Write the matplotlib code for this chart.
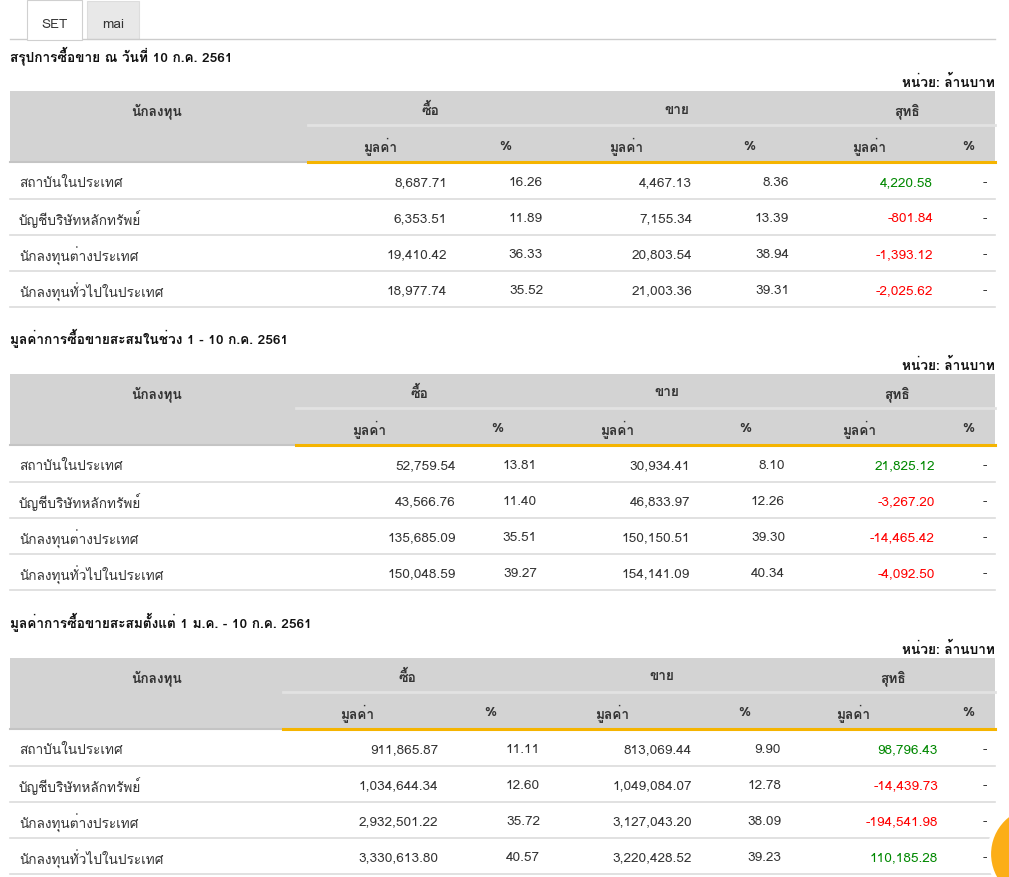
import matplotlib
matplotlib.use("Agg")
import matplotlib.pyplot as plt
from matplotlib import font_manager
from matplotlib.ft2font import FT2Font
from matplotlib.patches import Rectangle, Circle

# หา font ที่มีตัวอักษรไทย
thai_font = None
for f in font_manager.fontManager.ttflist:
    try:
        if ord("ก") in FT2Font(f.fname).get_charmap():
            thai_font = f.name
            break
    except Exception:
        pass
families = [thai_font, "DejaVu Sans"] if thai_font else ["DejaVu Sans"]
plt.rcParams["font.family"] = families

# ข้อมูล
tabs = ["SET", "mai"]
titles = ["สรุปการซื้อขาย ณ วันที่ 10 ก.ค. 2561",
          "มูลค่าการซื้อขายสะสมในช่วง 1 - 10 ก.ค. 2561",
          "มูลค่าการซื้อขายสะสมตั้งแต่ 1 ม.ค. - 10 ก.ค. 2561"]
unit_label = "หน่วย: ล้านบาท"
group_headers = ["นักลงทุน", "ซื้อ", "ขาย", "สุทธิ"]
sub_headers = ["มูลค่า", "%", "มูลค่า", "%", "มูลค่า", "%"]
investors = ["สถาบันในประเทศ", "บัญชีบริษัทหลักทรัพย์", "นักลงทุนต่างประเทศ", "นักลงทุนทั่วไปในประเทศ"]

buy_value = [[8687.71, 6353.51, 19410.42, 18977.74],
             [52759.54, 43566.76, 135685.09, 150048.59],
             [911865.87, 1034644.34, 2932501.22, 3330613.80]]
buy_pct = [[16.26, 11.89, 36.33, 35.52],
           [13.81, 11.40, 35.51, 39.27],
           [11.11, 12.60, 35.72, 40.57]]
sell_value = [[4467.13, 7155.34, 20803.54, 21003.36],
              [30934.41, 46833.97, 150150.51, 154141.09],
              [813069.44, 1049084.07, 3127043.20, 3220428.52]]
sell_pct = [[8.36, 13.39, 38.94, 39.31],
            [8.10, 12.26, 39.30, 40.34],
            [9.90, 12.78, 38.09, 39.23]]
net_value = [[4220.58, -801.84, -1393.12, -2025.62],
             [21825.12, -3267.20, -14465.42, -4092.50],
             [98796.43, -14439.73, -194541.98, 110185.28]]

# ตำแหน่งของแต่ละตาราง (pixel)
table_top = [92, 375, 659]
split_x = [308, 296, 283]
group_cx = [[157, 430, 677, 907], [157, 419, 667, 897], [157, 407, 662, 893]]
sub_cx = [[380, 505, 626, 749, 869, 968],
          [369, 497, 617, 745, 859, 968],
          [357, 490, 612, 744, 853, 968]]
val_rx = [[447, 543, 692, 789, 933, 987],
          [456, 537, 690, 785, 935, 987],
          [438, 540, 692, 781, 938, 987]]

W, H = 1009, 878
fig = plt.figure(figsize=(W / 100, H / 100), dpi=100)
ax = fig.add_axes([0, 0, 1, 1])
ax.set_xlim(0, W)
ax.set_ylim(H, 0)
ax.axis("off")

txt = "#333333"
fs = 9.8
va = "center_baseline"

# แท็บ
ax.add_patch(Rectangle((87, 2), 52, 38, facecolor="#e8e8e8", edgecolor="#dddddd", lw=0.8))
ax.add_patch(Rectangle((27, 1), 55, 40, facecolor="white", edgecolor="#d0d0d0", lw=0.8, zorder=3))
ax.plot([10, 27], [40, 40], color="#cccccc", lw=1)
ax.plot([82, 995], [40, 40], color="#cccccc", lw=1)
ax.text(54, 24, tabs[0], ha="center", va=va, fontsize=fs, color=txt, zorder=4)
ax.text(113, 23, tabs[1], ha="center", va=va, fontsize=fs, color=txt)


def fmt(v):
    return f"{v:,.2f}"


for t in range(3):
    top = table_top[t]
    ax.text(10, top - 38, titles[t], ha="left", va=va, fontsize=fs,
            fontweight="bold", color="#111111")
    ax.text(995, top - 11, unit_label, ha="right", va=va, fontsize=fs,
            fontweight="bold", color="#111111")
    # หัวตาราง
    ax.add_patch(Rectangle((10, top), 985, 71, facecolor="#d3d3d3", edgecolor="none"))
    ax.plot([split_x[t], 995], [top + 34, top + 34], color="#e2e2e2", lw=2)
    ax.plot([10, split_x[t]], [top + 71, top + 71], color="#c4c4c4", lw=1.5)
    ax.plot([split_x[t], 995], [top + 71, top + 71], color="#f5b400", lw=2.2)
    for i, h in enumerate(group_headers):
        ax.text(group_cx[t][i], top + 17, h, ha="center", va=va, fontsize=fs,
                fontweight="bold", color=txt)
    for i, h in enumerate(sub_headers):
        ax.text(sub_cx[t][i], top + 53, h, ha="center", va=va, fontsize=fs,
                fontweight="bold", color=txt)
    # แถวข้อมูล
    for r, name in enumerate(investors):
        yc = top + 90 + 36 * r
        ax.plot([10, 995], [yc + 18, yc + 18], color="#dcdcdc", lw=1.2)
        ax.text(19, yc, name, ha="left", va=va, fontsize=fs, color=txt)
        cells = [fmt(buy_value[t][r]), f"{buy_pct[t][r]:.2f}",
                 fmt(sell_value[t][r]), f"{sell_pct[t][r]:.2f}",
                 fmt(net_value[t][r]), "-"]
        for c, s in enumerate(cells):
            col = txt
            if c == 4:
                col = "#008800" if net_value[t][r] >= 0 else "#ff0000"
            ax.text(val_rx[t][c], yc, s, ha="right", va=va, fontsize=fs, color=col)

# ปุ่มวงกลมสีส้มมุมขวาล่าง
ax.add_patch(Circle((1038, 855), 49, facecolor="#fcae17", edgecolor="white", lw=3, zorder=5))

fig.savefig("out.png", dpi=100)
